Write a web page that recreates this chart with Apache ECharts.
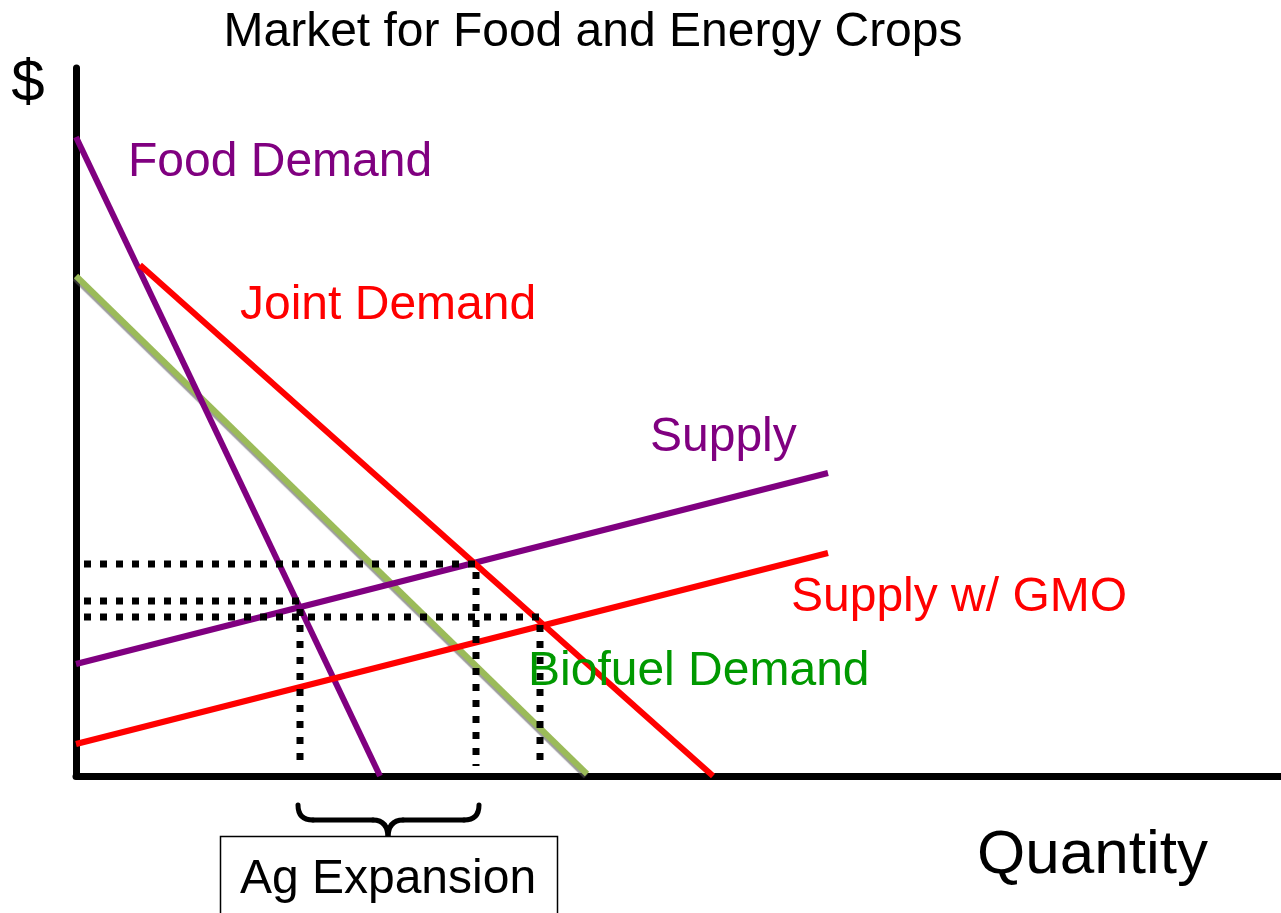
<!DOCTYPE html>
<html>
<head>
<meta charset="utf-8">
<script src="https://cdn.jsdelivr.net/npm/echarts@6/dist/echarts.min.js"></script>
<style>
  html, body { margin: 0; padding: 0; background: #fff; }
  #d { width: 1281px; height: 913px; }
</style>
</head>
<body>
<div id="d"></div>
<script>
// curves, in quantity / price units (origin at the axes corner)
var foodDemand = [[0, 639], [304, 0]];
var jointDemand = [[64, 511], [637, 0]];
var biofuelDemand = [[0, 500], [511, 2]];
var supply = [[0, 112], [752, 303]];
var supplyGmo = [[0, 32], [752, 223]];

// dotted guide lines to the equilibria
var eqJoint = [[8, 212], [400, 212], [400, 10]];
var eqFood = [[8, 175], [224, 175], [224, 10]];
var eqGmo = [[8, 159], [464, 159], [464, 10]];

var xMax = 1205, yMax = 708;
var ff = 'Liberation Sans, Arial, sans-serif';

function curve(name, data, color, w, z) {
  return {
    name: name, type: 'line', data: data, symbol: 'none', z: z,
    lineStyle: { color: color, width: w },
    silent: true
  };
}
function dots(name, data) {
  return {
    name: name, type: 'line', data: data, symbol: 'none', z: 10,
    lineStyle: { color: '#000', width: 7, type: [7, 9], cap: 'butt' },
    silent: true
  };
}
function label(text, color, size, x, y, align) {
  return { type: 'text', z: 20, style: { text: text, fill: color, font: size + 'px ' + ff, x: x, y: y, textAlign: align || 'left', textVerticalAlign: 'middle' } };
}
var braceStyle = { stroke: '#000', lineWidth: 5, lineCap: 'round', fill: null };

var myChart = echarts.init(document.getElementById('d'));
var bio = curve('Biofuel Demand', biofuelDemand, '#9bbb59', 6, 2);
bio.lineStyle.shadowColor = 'rgba(90,90,90,0.6)';
bio.lineStyle.shadowBlur = 1;
bio.lineStyle.shadowOffsetX = -1;
bio.lineStyle.shadowOffsetY = 2;

var option = {
  animation: false,
  backgroundColor: '#fff',
  grid: { left: 76, right: 0, top: 68, height: yMax, containLabel: false },
  xAxis: {
    type: 'value', min: 0, max: xMax,
    axisLine: { show: true, lineStyle: { color: '#000', width: 7 } },
    axisTick: { show: false }, axisLabel: { show: false }, splitLine: { show: false }
  },
  yAxis: {
    type: 'value', min: 0, max: yMax,
    axisLine: { show: true, lineStyle: { color: '#000', width: 7 } },
    axisTick: { show: false }, axisLabel: { show: false }, splitLine: { show: false }
  },
  series: [
    bio,
    curve('Food Demand', foodDemand, '#800080', 6, 3),
    curve('Supply', supply, '#800080', 6, 3),
    curve('Joint Demand', jointDemand, '#ff0000', 6, 4),
    curve('Supply w/ GMO', supplyGmo, '#ff0000', 6, 4),
    dots('eq1', eqJoint),
    dots('eq2', eqFood),
    dots('eq3', eqGmo)
  ],
  graphic: [
    label('Market for Food and Energy Crops', '#000', 48, 593, 33, 'center'),
    label('$', '#000', 60, 28, 84, 'center'),
    label('Food Demand', '#800080', 48, 128, 163),
    label('Joint Demand', '#ff0000', 48, 240, 306),
    label('Supply', '#800080', 48, 650, 438),
    label('Supply w/ GMO', '#ff0000', 48, 791, 598),
    label('Biofuel Demand', '#009900', 48, 528, 672),
    label('Quantity', '#000', 62, 977, 856),
    // brace over the expansion range
    { type: 'bezierCurve', shape: { x1: 298, y1: 805, cpx1: 298, cpy1: 820, x2: 313, y2: 820 }, style: braceStyle },
    { type: 'line', shape: { x1: 313, y1: 820, x2: 373, y2: 820 }, style: braceStyle },
    { type: 'bezierCurve', shape: { x1: 373, y1: 820, cpx1: 388, cpy1: 820, x2: 388, y2: 838 }, style: braceStyle },
    { type: 'bezierCurve', shape: { x1: 388, y1: 838, cpx1: 388, cpy1: 820, x2: 403, y2: 820 }, style: braceStyle },
    { type: 'line', shape: { x1: 403, y1: 820, x2: 464, y2: 820 }, style: braceStyle },
    { type: 'bezierCurve', shape: { x1: 464, y1: 820, cpx1: 479, cpy1: 820, x2: 479, y2: 805 }, style: braceStyle },
    { type: 'rect', shape: { x: 220.5, y: 836.5, width: 337, height: 100 }, style: { fill: '#fff', stroke: '#000', lineWidth: 1.5 } },
    label('Ag Expansion', '#000', 48, 388, 880, 'center')
  ]
};
option && myChart.setOption(option);
</script>
</body>
</html>
